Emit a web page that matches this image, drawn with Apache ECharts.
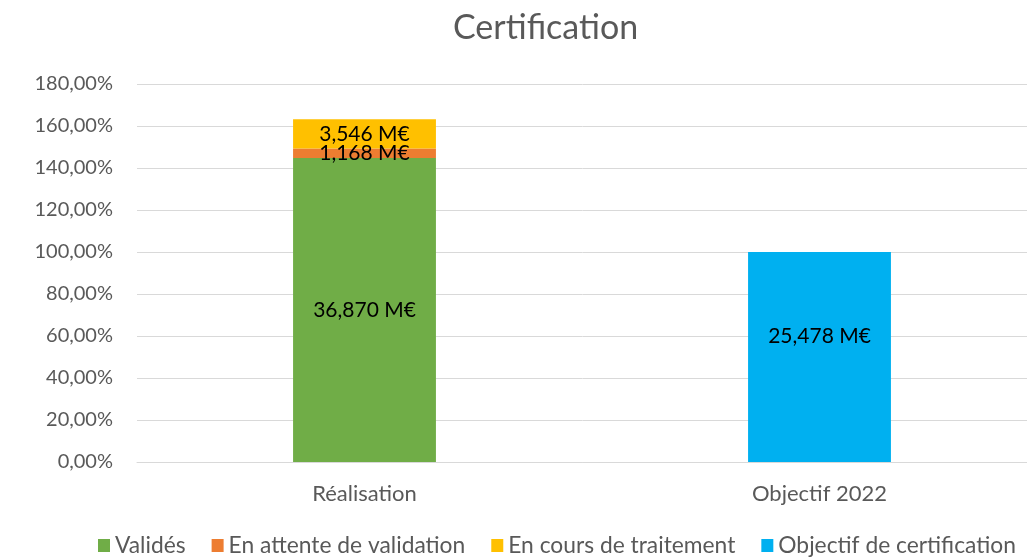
<!DOCTYPE html>
<html lang="fr">
<head>
    <meta charset="UTF-8"/>
    <title>Certification</title>
    <script src="https://cdn.jsdelivr.net/npm/echarts@6/dist/echarts.min.js"></script>
</head>
<body style="margin:0">
<div id="main" style="width:1027px;height:560px"></div>

<script type="text/javascript">
    // catégories et séries (en % de l'objectif, libellés en M€)
    var categories = ['Réalisation', 'Objectif 2022'];
    var seriesNames = ['Validés', 'En attente de validation', 'En cours de traitement', 'Objectif de certification'];
    var valides = [144.71, '-'];
    var enAttente = [4.58, '-'];
    var enCours = [13.92, '-'];
    var objectif = ['-', 100];
    var labelsMEUR = [
        ['36,870 M€', ''],
        ['1,168 M€', ''],
        ['3,546 M€', ''],
        ['', '25,478 M€']
    ];
    var colors = ['#70AD47', '#ED7D31', '#FFC000', '#00B0F0'];
    var font = 'Lato, "Open Sans", sans-serif';

    function makeSeries(i, data) {
        return {
            name: seriesNames[i],
            type: 'bar',
            stack: 'total',
            barWidth: '31.4%',
            data: data,
            itemStyle: { color: colors[i] },
            label: {
                show: true,
                position: 'inside',
                offset: i === 3 ? [0, -21] : [0, 0],
                color: '#000',
                fontSize: 21,
                fontFamily: font,
                formatter: function (p) { return labelsMEUR[i][p.dataIndex]; }
            }
        };
    }

    var myChart = echarts.init(document.getElementById('main'));
    var option = {
        animation: false,
        title: {
            text: 'Certification',
            left: 448,
            top: 6,
            textStyle: { fontSize: 34, fontWeight: 'normal', color: '#595959', fontFamily: font }
        },
        legend: {
            bottom: -2,
            left: 93,
            itemWidth: 12,
            itemHeight: 13,
            itemGap: 26,
            icon: 'rect',
            textStyle: { fontSize: 22.8, color: '#595959', fontFamily: font },
            data: seriesNames
        },
        grid: { left: 137, width: 910, top: 84, bottom: 98, outerBoundsMode: 'none' },
        xAxis: {
            type: 'category',
            data: categories,
            axisLine: { lineStyle: { color: '#d9d9d9' } },
            axisTick: { show: false },
            axisLabel: { color: '#595959', fontSize: 22, fontFamily: font, margin: 21 }
        },
        yAxis: {
            type: 'value',
            min: 0,
            max: 180,
            interval: 20,
            axisLine: { show: false },
            axisTick: { show: false },
            splitLine: { lineStyle: { color: '#d9d9d9' } },
            axisLabel: {
                color: '#595959',
                fontSize: 20,
                fontFamily: font,
                margin: 24,
                formatter: function (v) { return v.toFixed(2).replace('.', ',') + '%'; }
            }
        },
        series: [
            makeSeries(0, valides),
            makeSeries(1, enAttente),
            makeSeries(2, enCours),
            makeSeries(3, objectif)
        ]
    };
    myChart.setOption(option);
</script>
</body>
</html>
